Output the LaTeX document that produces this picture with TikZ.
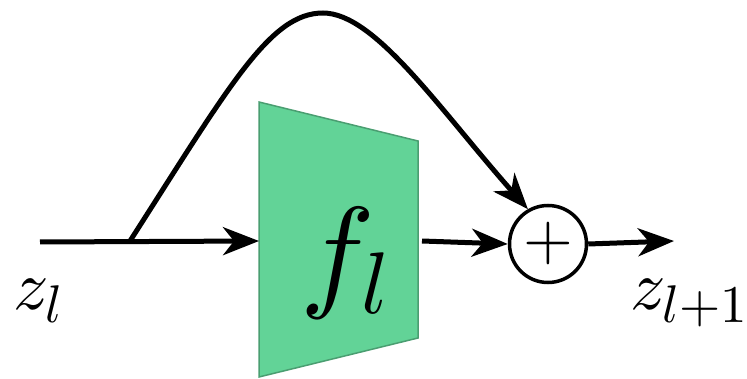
\RequirePackage{fix-cm}
\documentclass[tikz,border=0pt]{standalone}
\usetikzlibrary{arrows.meta}
\DeclareFontShape{OML}{cmm}{m}{it}{<->cmmi10}{}
\DeclareFontShape{OT1}{cmr}{m}{n}{<->cmr10}{}
\DeclareMathSizes{70}{70}{53}{40}
\definecolor{blockgreen}{RGB}{98,211,151}
\tikzset{
  flow/.style={line width=5pt,-{Stealth[length=36pt,width=28pt,inset=11pt]}},
  bigmath/.style={font=\fontsize{70}{70}\selectfont,inner sep=0pt}
}
\begin{document}
\begin{tikzpicture}[x=1pt,y=-1pt]
\useasboundingbox (0,0) rectangle (747,379);
% residual block
\draw[fill=blockgreen,draw=blockgreen!75!black,line width=1.5pt]
  (259,102) -- (418,141) -- (418,338) -- (259,377) -- cycle;
\coordinate (fin) at (259,241);
\coordinate (fout) at (422,241);
\node[font=\fontsize{125}{125}\selectfont,inner sep=0pt,anchor=base west] (fl) at (300,295) {$f_l$};
\node[draw,circle,line width=3.5pt,minimum size=77pt,inner sep=0pt,font=\fontsize{64}{64}\selectfont] (add) at (548,244) {$+$};
% input / output
\coordinate (zin) at (40,242);
\coordinate (split) at (130,241);
\coordinate (zout) at (674,241);
\node[bigmath,anchor=base west] (zl) at (13,310) {$z_l$};
\node[bigmath,anchor=base west] (zl1) at (630,310) {$z_{l+1}$};
\draw[flow] (zin) -- (fin);
\draw[flow] (fout) -- (add.west);
\draw[flow] (add.east) -- (zout);
% skip connection
\draw[flow] (split) .. controls (230,85) and (270,13) .. (323,13)
  .. controls (375,13) and (440,110) .. (add.120);
\end{tikzpicture}
\end{document}
